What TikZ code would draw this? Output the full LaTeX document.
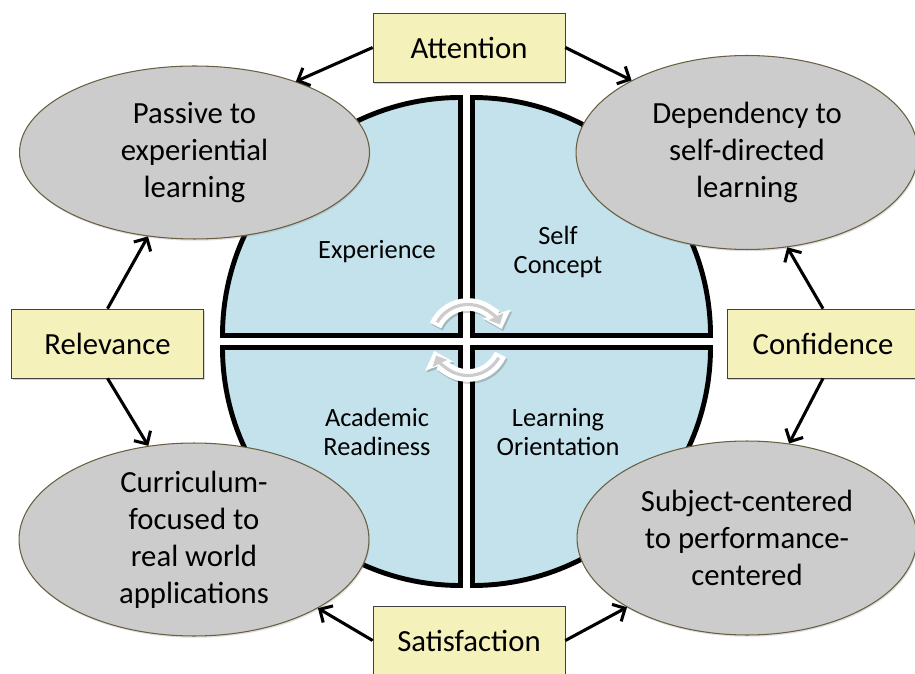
\documentclass[tikz,border=0pt]{standalone}
\usepackage{fontspec}
\setmainfont{Carlito}
\definecolor{keyyellow}{RGB}{245, 241, 187}
\definecolor{shiftgray}{RGB}{204, 204, 204}
\definecolor{shiftline}{RGB}{105, 95, 65}
\definecolor{quadblue}{RGB}{196, 226, 235}
\usetikzlibrary{shapes.geometric, arrows.meta, shadows, calc}

\begin{document}
\begin{tikzpicture}[x=0.02cm, y=0.02cm,
  keybox/.style={draw=black!75, fill=keyyellow, minimum width=3.84cm, minimum height=1.38cm, inner sep=0pt, font=\fontsize{17.5}{21}\selectfont, drop shadow={opacity=0.35, shadow xshift=0.7pt, shadow yshift=-0.9pt}},
  shiftell/.style 2 args={ellipse, draw=shiftline, line width=0.6pt, fill=shiftgray, minimum width=#1, minimum height=#2, inner sep=0pt, inner ysep=-12pt, align=center, font=\fontsize{17.5}{21}\selectfont, drop shadow={opacity=0.25, shadow xshift=0.5pt, shadow yshift=-1pt}},
  quad/.style={draw=black, line width=2.8pt, fill=quadblue},
  quadlbl/.style={align=center, font=\fontsize{15}{16.5}\selectfont},
  linkarr/.style={-{Straight Barb[length=5.5pt, width=11pt]}, line width=1.75pt},
  cycarr/.style={white, line width=7.2pt, -{Triangle[length=9pt, width=16pt]}},
  cycline/.style={gray!40, line width=1.8pt, -{Triangle[length=5pt, width=9pt]}},
  cycshade/.style={black, opacity=0.18, line width=7.2pt, -{Triangle[length=9pt, width=16pt]}}
]
  \useasboundingbox (0,0) rectangle (915,673);
  \clip (0,0) rectangle (915,673);

  % four quarters of the circle
  \draw[quad] (460.5,337.5) -- ++(-238,0) arc[start angle=180, end angle=90, radius=238] -- cycle;
  \draw[quad] (472.5,337.5) -- ++(0,238) arc[start angle=90, end angle=0, radius=238] -- cycle;
  \draw[quad] (460.5,325.5) -- ++(0,-238) arc[start angle=270, end angle=180, radius=238] -- cycle;
  \draw[quad] (472.5,325.5) -- ++(238,0) arc[start angle=0, end angle=-90, radius=238] -- cycle;

  \node[quadlbl] (exper) at (377,421) {Experience};
  \node[quadlbl] (selfc) at (558,421) {Self\\Concept};
  \node[quadlbl] (acad) at (377,241) {Academic\\Readiness};
  \node[quadlbl] (orient) at (558,241) {Learning\\Orientation};

  % turning arrows in the middle
  \coordinate (hub) at (468,333);
  \coordinate (hubshade) at ($(hub)+(1.5,-2)$);
  \draw[cycshade] ([shift={(156:35.5)}]hubshade) arc[start angle=156, end angle=18, radius=35.5];
  \draw[cycshade] ([shift={(-24:35.5)}]hubshade) arc[start angle=-24, end angle=-162, radius=35.5];
  \draw[cycarr] ([shift={(156:35.5)}]hub) arc[start angle=156, end angle=18, radius=35.5];
  \draw[cycarr] ([shift={(-24:35.5)}]hub) arc[start angle=-24, end angle=-162, radius=35.5];
  \draw[cycline] ([shift={(150:35.5)}]hub) arc[start angle=150, end angle=26, radius=35.5];
  \draw[cycline] ([shift={(-30:35.5)}]hub) arc[start angle=-30, end angle=-154, radius=35.5];

  \node[shiftell={7cm}{3.46cm}] (passive) at (194.5,520.5) {Passive to\\experiential\\learning};
  \node[shiftell={6.84cm}{3.88cm}] (depend) at (747,520.5) {Dependency to\\self-directed\\learning};
  \node[shiftell={7cm}{3.86cm}] (curric) at (194,133.5) {Curriculum-\\focused to\\real world\\applications};
  \node[shiftell={6.8cm}{3.88cm}] (subject) at (747,135) {Subject-centered\\to performance-\\centered};

  \node[keybox] (att) at (469,625.5) {Attention};
  \node[keybox] (rel) at (107.5,329.5) {Relevance};
  \node[keybox] (conf) at (823,329.5) {Confidence};
  \node[keybox] (sat) at (469,32.5) {Satisfaction};

  \draw[linkarr] (att.west) -- (passive.35);
  \draw[linkarr] (att.east) -- (depend.148);
  \draw[linkarr] (rel.north) -- (passive.-119);
  \draw[linkarr] (rel.south) -- (curric.116);
  \draw[linkarr] (conf.north) -- (depend.-67);
  \draw[linkarr] (conf.south) -- (subject.66);
  \draw[linkarr] (sat.west) -- (curric.-29);
  \draw[linkarr] (sat.east) -- (subject.210);
\end{tikzpicture}
\end{document}
